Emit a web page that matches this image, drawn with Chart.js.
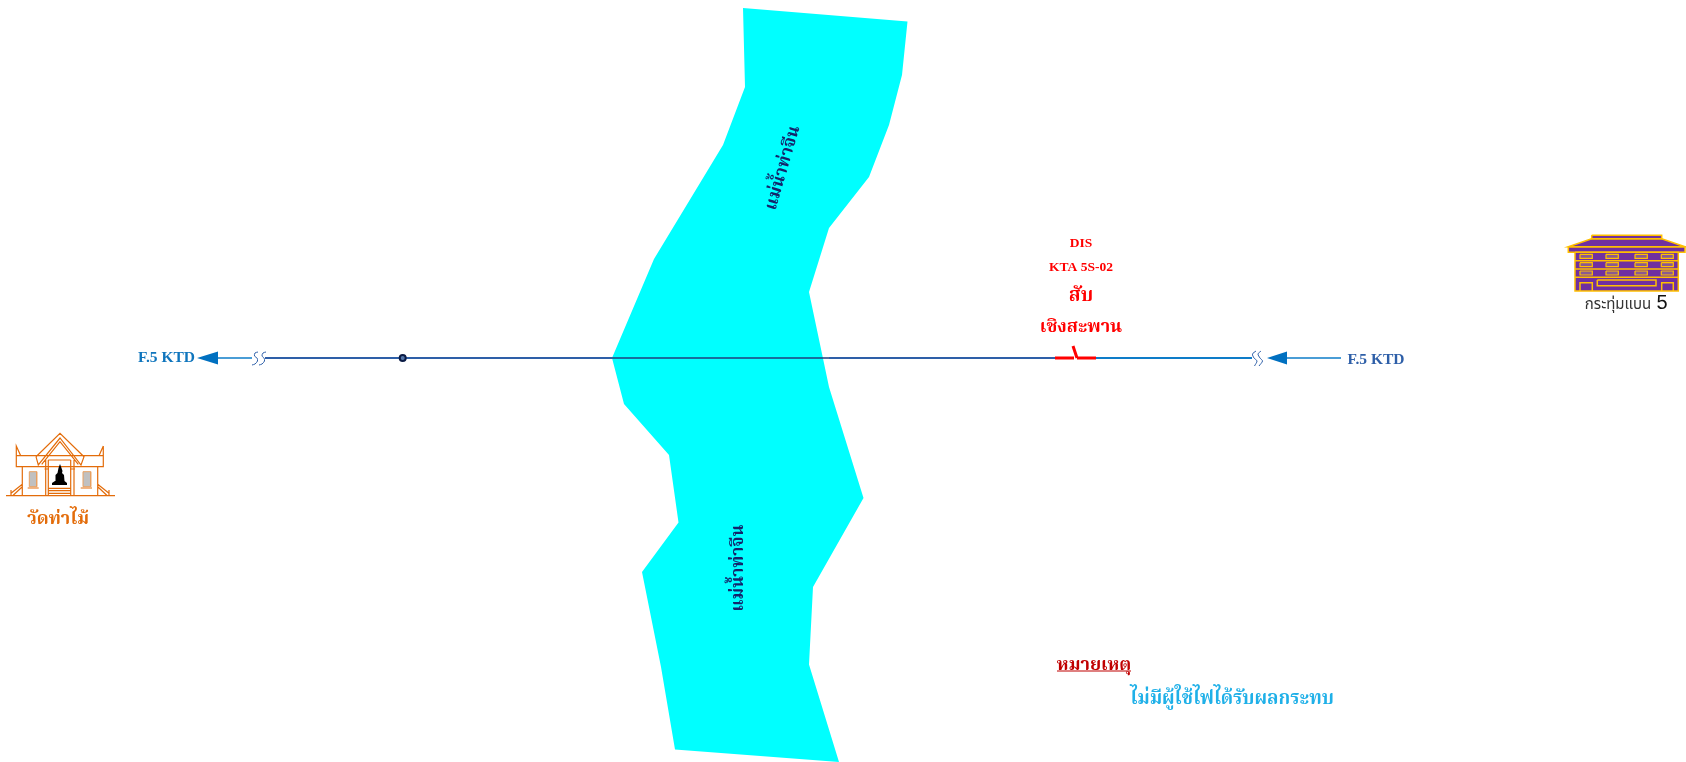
<!DOCTYPE html>
<html>
<head>
<meta charset="utf-8">
<title>F.5 KTD</title>
<script src="https://cdn.jsdelivr.net/npm/chart.js@4"></script>
<style>
  body { margin: 0; background: #fff; }
  canvas { display: block; }
</style>
</head>
<body>
<canvas id="chart" width="1686" height="762"></canvas>
<script>
// river outline
const riverX = [743, 907.5, 902, 889, 869, 829, 809, 829, 863.5, 813, 809, 839, 675, 661, 642, 678.5, 669, 624, 612, 654, 723, 745, 743]
const riverY = [8, 21.5, 75, 125, 177, 228, 292, 387, 498, 587, 664.5, 762, 749.5, 667, 572, 522.5, 455, 404, 358, 259, 145, 87, 8]

// feeder line
const lineY = 358
const feederLeftX = [265, 612]
const feederRiverX = [612, 829]
const feederMidX = [829, 1055]
const feederRightX = [1096, 1252]
const tailLeftX = [218, 252]
const tailRightX = [1287, 1341]
const poleX = [402.7]

const arrowLeftX = [197, 218, 218, 197]
const arrowLeftY = [358, 351.5, 364.5, 358]
const arrowRightX = [1267, 1287, 1287, 1267]
const arrowRightY = [358, 351.5, 364.5, 358]

const breakLeftX = [258, 255, 254.5, 257, 257.5, 255, 252, null, 266, 263, 262, 264, 264.5, 262, 259]
const breakLeftY = [352, 353, 356, 358, 361, 364, 365, null, 352, 353, 356, 358, 361, 364, 365]
const breakRightX = [1256, 1252.5, 1254, 1257, 1254.5, null, 1261, 1258, 1260, 1262.5, 1259]
const breakRightY = [351, 354, 358, 361, 366, null, 351, 354, 358, 361, 366]

// open switch
const switchX = [1055, 1074, null, 1073, 1077, null, 1077, 1096]
const switchY = [358, 358, null, 346, 358, null, 358, 358]

// temple
const templeX = [6, 115, null, 16.3, 103.3, 103.3, 16.3, 16.3, 16.3, 20.7, null, 103.3, 99, null,
  103.3, 103.3, null, 22.3, 22.3, null, 97.7, 97.7, null, 45.7, 45.7, null, 48.3, 48.3, null, 70.7, 70.7, null, 74, 74, null,
  36, 60, 84, 81, 60, 38.3, 36, null, 41.7, 60, 78.3, null, 48.3, 70.7, null, 48.3, 70.7, null, 48.3, 70.7, null, 48.3, 70.7, null,
  11, 22.3, null, 12.7, 22.3, null, 11, 11, null, 109, 97.7, null, 107.3, 97.7, null, 109, 109, null,
  27.7, 38.7, null, 80.7, 92, null, 44.5, 49, null, 70, 75]
const templeY = [495.7, 495.7, null, 455.7, 455.7, 466.7, 466.7, 446, 446, 455.7, null, 446, 455.7, null,
  446, 455.7, null, 466.7, 495.7, null, 466.7, 495.7, null, 460, 495.7, null, 460, 495.7, null, 460, 495.7, null, 460, 495.7, null,
  456.7, 433.3, 456.7, 465, 438, 465, 456.7, null, 464.3, 441.7, 464.3, null, 460, 460, null, 488.3, 488.3, null, 490.7, 490.7, null, 493.3, 493.3, null,
  493.3, 484.3, null, 495.7, 486.7, null, 490, 495.7, null, 493.3, 484.3, null, 495.7, 486.7, null, 490, 495.7, null,
  488, 488, null, 488, 488, null, 469, 469, null, 469, 469]
const templeLeftWindowX = [29.3, 36.7, 36.7, 29.3, 29.3]
const templeRightWindowX = [83, 90.7, 90.7, 83, 83]
const templeWindowY = [471.7, 471.7, 486.7, 486.7, 471.7]
const buddhaX = [60, 61.5, 62.5, 62, 64, 64.5, 67, 67, 52, 52, 55, 55.5, 57.5, 58.5, 60]
const buddhaY = [464, 468, 471, 473, 475, 481, 483, 485, 485, 483, 481, 475, 473, 468, 464]

// house
const roofX = [1591.7, 1661.7, 1685, 1568.3, 1591.7]
const roofY = [238.7, 238.7, 246.7, 246.7, 238.7]
const ridgeX = [1591.7, 1661.7, 1661.7, 1591.7, 1591.7]
const ridgeY = [235.3, 235.3, 238.7, 238.7, 235.3]
const eaveX = [1568.3, 1685, 1685, 1568.3, 1568.3]
const eaveY = [246.7, 246.7, 252.3, 252.3, 246.7]
const bodyX = [1575, 1678.3, 1678.3, 1575, 1575]
const bodyY = [252.3, 252.3, 291, 291, 252.3]
const floorX = [1575, 1678.3, null, 1575, 1678.3, null, 1575, 1678.3]
const floorY = [260.7, 260.7, null, 269, 269, null, 277.3, 277.3]
const windowColsLeft = [1580, 1606, 1635, 1661.3]
const windowColsRight = [1592.3, 1618.3, 1647.3, 1673.3]
const windowRowsTop = [254.3, 262.7, 271]
const windowRowsBottom = [258.3, 266.7, 275]
const longWindowX = [1597.3, 1656, 1656, 1597.3, 1597.3]
const longWindowY = [280, 280, 285.7, 285.7, 280]
const doorsX = [1580, 1580, 1592.3, 1592.3, null, 1661.7, 1661.7, 1673.3, 1673.3]
const doorsY = [291, 282.7, 282.7, 291, null, 291, 282.7, 282.7, 291]

const serifFont = "'Liberation Serif', 'Noto Serif Thai', 'Noto Sans Thai', serif"
const sansFont = "'Liberation Sans', 'Noto Sans Thai', sans-serif"

const labels = [
  { text: "F.5 KTD", x: 166.5, y: 358, font: "bold 15.5px " + serifFont, color: "#0F75BD" },
  { text: "F.5 KTD", x: 1376, y: 360, font: "bold 15.5px " + serifFont, color: "#2E5FA8" },
  { text: "DIS", x: 1081, y: 244, font: "bold 13.5px " + serifFont, color: "#FF0000" },
  { text: "KTA 5S-02", x: 1081, y: 268, font: "bold 13.5px " + serifFont, color: "#FF0000" },
  { text: "สับ", x: 1081, y: 296, font: "bold 19px " + serifFont, color: "#FF0000" },
  { text: "เชิงสะพาน", x: 1081, y: 327, font: "bold 18px " + serifFont, color: "#FF0000" },
  { text: "วัดท่าไม้", x: 58, y: 519, font: "bold 18px " + serifFont, color: "#E36C0A" },
  { text: "กระทุ่มแบน", x: 1618, y: 305, font: "15px " + sansFont, color: "#333333" },
  { text: "5", x: 1662, y: 303, font: "20px " + sansFont, color: "#111111" },
  { text: "หมายเหตุ", x: 1094, y: 665, font: "bold 18px " + serifFont, color: "#C00000" },
  { text: "ไม่มีผู้ใช้ไฟได้รับผลกระทบ", x: 1232, y: 699, font: "bold 18.6px " + serifFont, color: "#1FB0E8" },
  { text: "แม่น้ำท่าจีน", x: 783, y: 168, font: "bold 17.5px " + serifFont, color: "#14246B", angle: -73.7 },
  { text: "แม่น้ำท่าจีน", x: 738, y: 568, font: "bold 17.5px " + serifFont, color: "#14246B", angle: -90 }
]
const underlineX = [1057, 1131]
const underlineY = [671, 671]

function toPoints(xs, ys) {
  return xs.map((x, i) => ({ x: x, y: ys[i] }))
}

function stroke(xs, ys, color, width, tension) {
  return { data: toPoints(xs, ys), borderColor: color, borderWidth: width, tension: tension || 0, pointRadius: 0, fill: false, showLine: true, spanGaps: false }
}

function shape(xs, ys, fillColor, lineColor, width) {
  return { data: toPoints(xs, ys), borderColor: lineColor, borderWidth: width, backgroundColor: fillColor, pointRadius: 0, fill: "shape", showLine: true }
}

function flat(xs) {
  return xs.map(() => lineY)
}

let datasets = [
  shape(riverX, riverY, "#00FFFF", "#00FFFF", 0),
  stroke(feederLeftX, flat(feederLeftX), "#2E5FA8", 2),
  stroke(feederRiverX, flat(feederRiverX), "#1F3F7C", 1.5),
  stroke(feederMidX, flat(feederMidX), "#2E5FA8", 2),
  stroke(feederRightX, flat(feederRightX), "#0E7CC8", 2),
  stroke(tailLeftX, flat(tailLeftX), "#0E7CC8", 1.4),
  stroke(tailRightX, flat(tailRightX), "#0E7CC8", 1.4),
  shape(arrowLeftX, arrowLeftY, "#0070C0", "#0070C0", 0),
  shape(arrowRightX, arrowRightY, "#0070C0", "#0070C0", 0),
  stroke(breakLeftX, breakLeftY, "#2E5FA8", 1, 0.3),
  stroke(breakRightX, breakRightY, "#2E5FA8", 1, 0.3),
  stroke(switchX, switchY, "#FF0000", 3),
  { data: toPoints(poleX, flat(poleX)), pointRadius: 3, pointBorderWidth: 2, pointBackgroundColor: "#5577AA", pointBorderColor: "#0B1B45", showLine: false },
  stroke(templeX, templeY, "#E36C0A", 1.2),
  shape(templeLeftWindowX, templeWindowY, "#C0C0C0", "#E8A060", 1),
  shape(templeRightWindowX, templeWindowY, "#C0C0C0", "#E8A060", 1),
  shape(buddhaX, buddhaY, "#000000", "#000000", 0),
  shape(eaveX, eaveY, "#7030A0", "#FFC000", 1.5),
  shape(roofX, roofY, "#7030A0", "#FFC000", 1.5),
  shape(ridgeX, ridgeY, "#7030A0", "#FFC000", 1.5),
  shape(bodyX, bodyY, "#7030A0", "#FFC000", 1.5),
  stroke(floorX, floorY, "#FFC000", 1.5),
  stroke(longWindowX, longWindowY, "#FFC000", 1.5),
  stroke(doorsX, doorsY, "#FFC000", 1.5),
  stroke(underlineX, underlineY, "#C00000", 1.2)
]

// small windows of the house, one per floor and column
windowRowsTop.forEach((top, r) => {
  windowColsLeft.forEach((left, c) => {
    const right = windowColsRight[c]
    const bottom = windowRowsBottom[r]
    datasets.push(shape([left, right, right, left, left], [top, top, bottom, bottom, top], "#8A5A90", "#FFC000", 1.2))
  })
})

// later entries go on top
datasets.forEach((d, i) => { d.order = -i })

const textPlugin = {
  id: "textPlugin",
  afterDatasetsDraw(chart) {
    const ctx = chart.ctx
    labels.forEach(l => {
      ctx.save()
      ctx.translate(chart.scales.x.getPixelForValue(l.x), chart.scales.y.getPixelForValue(l.y))
      if (l.angle) ctx.rotate(l.angle * Math.PI / 180)
      ctx.font = l.font
      ctx.fillStyle = l.color
      ctx.textAlign = "center"
      ctx.textBaseline = "middle"
      ctx.fillText(l.text, 0, 0)
      ctx.restore()
    })
  }
}

new Chart(document.getElementById("chart"), {
  type: "scatter",
  data: { datasets: datasets },
  options: {
    responsive: false,
    animation: false,
    layout: { padding: 0, autoPadding: false },
    plugins: { legend: { display: false }, tooltip: { enabled: false } },
    scales: {
      x: { type: "linear", min: 0, max: 1686, display: false },
      y: { type: "linear", min: 0, max: 762, reverse: true, display: false }
    }
  },
  plugins: [textPlugin]
})
</script>
</body>
</html>
